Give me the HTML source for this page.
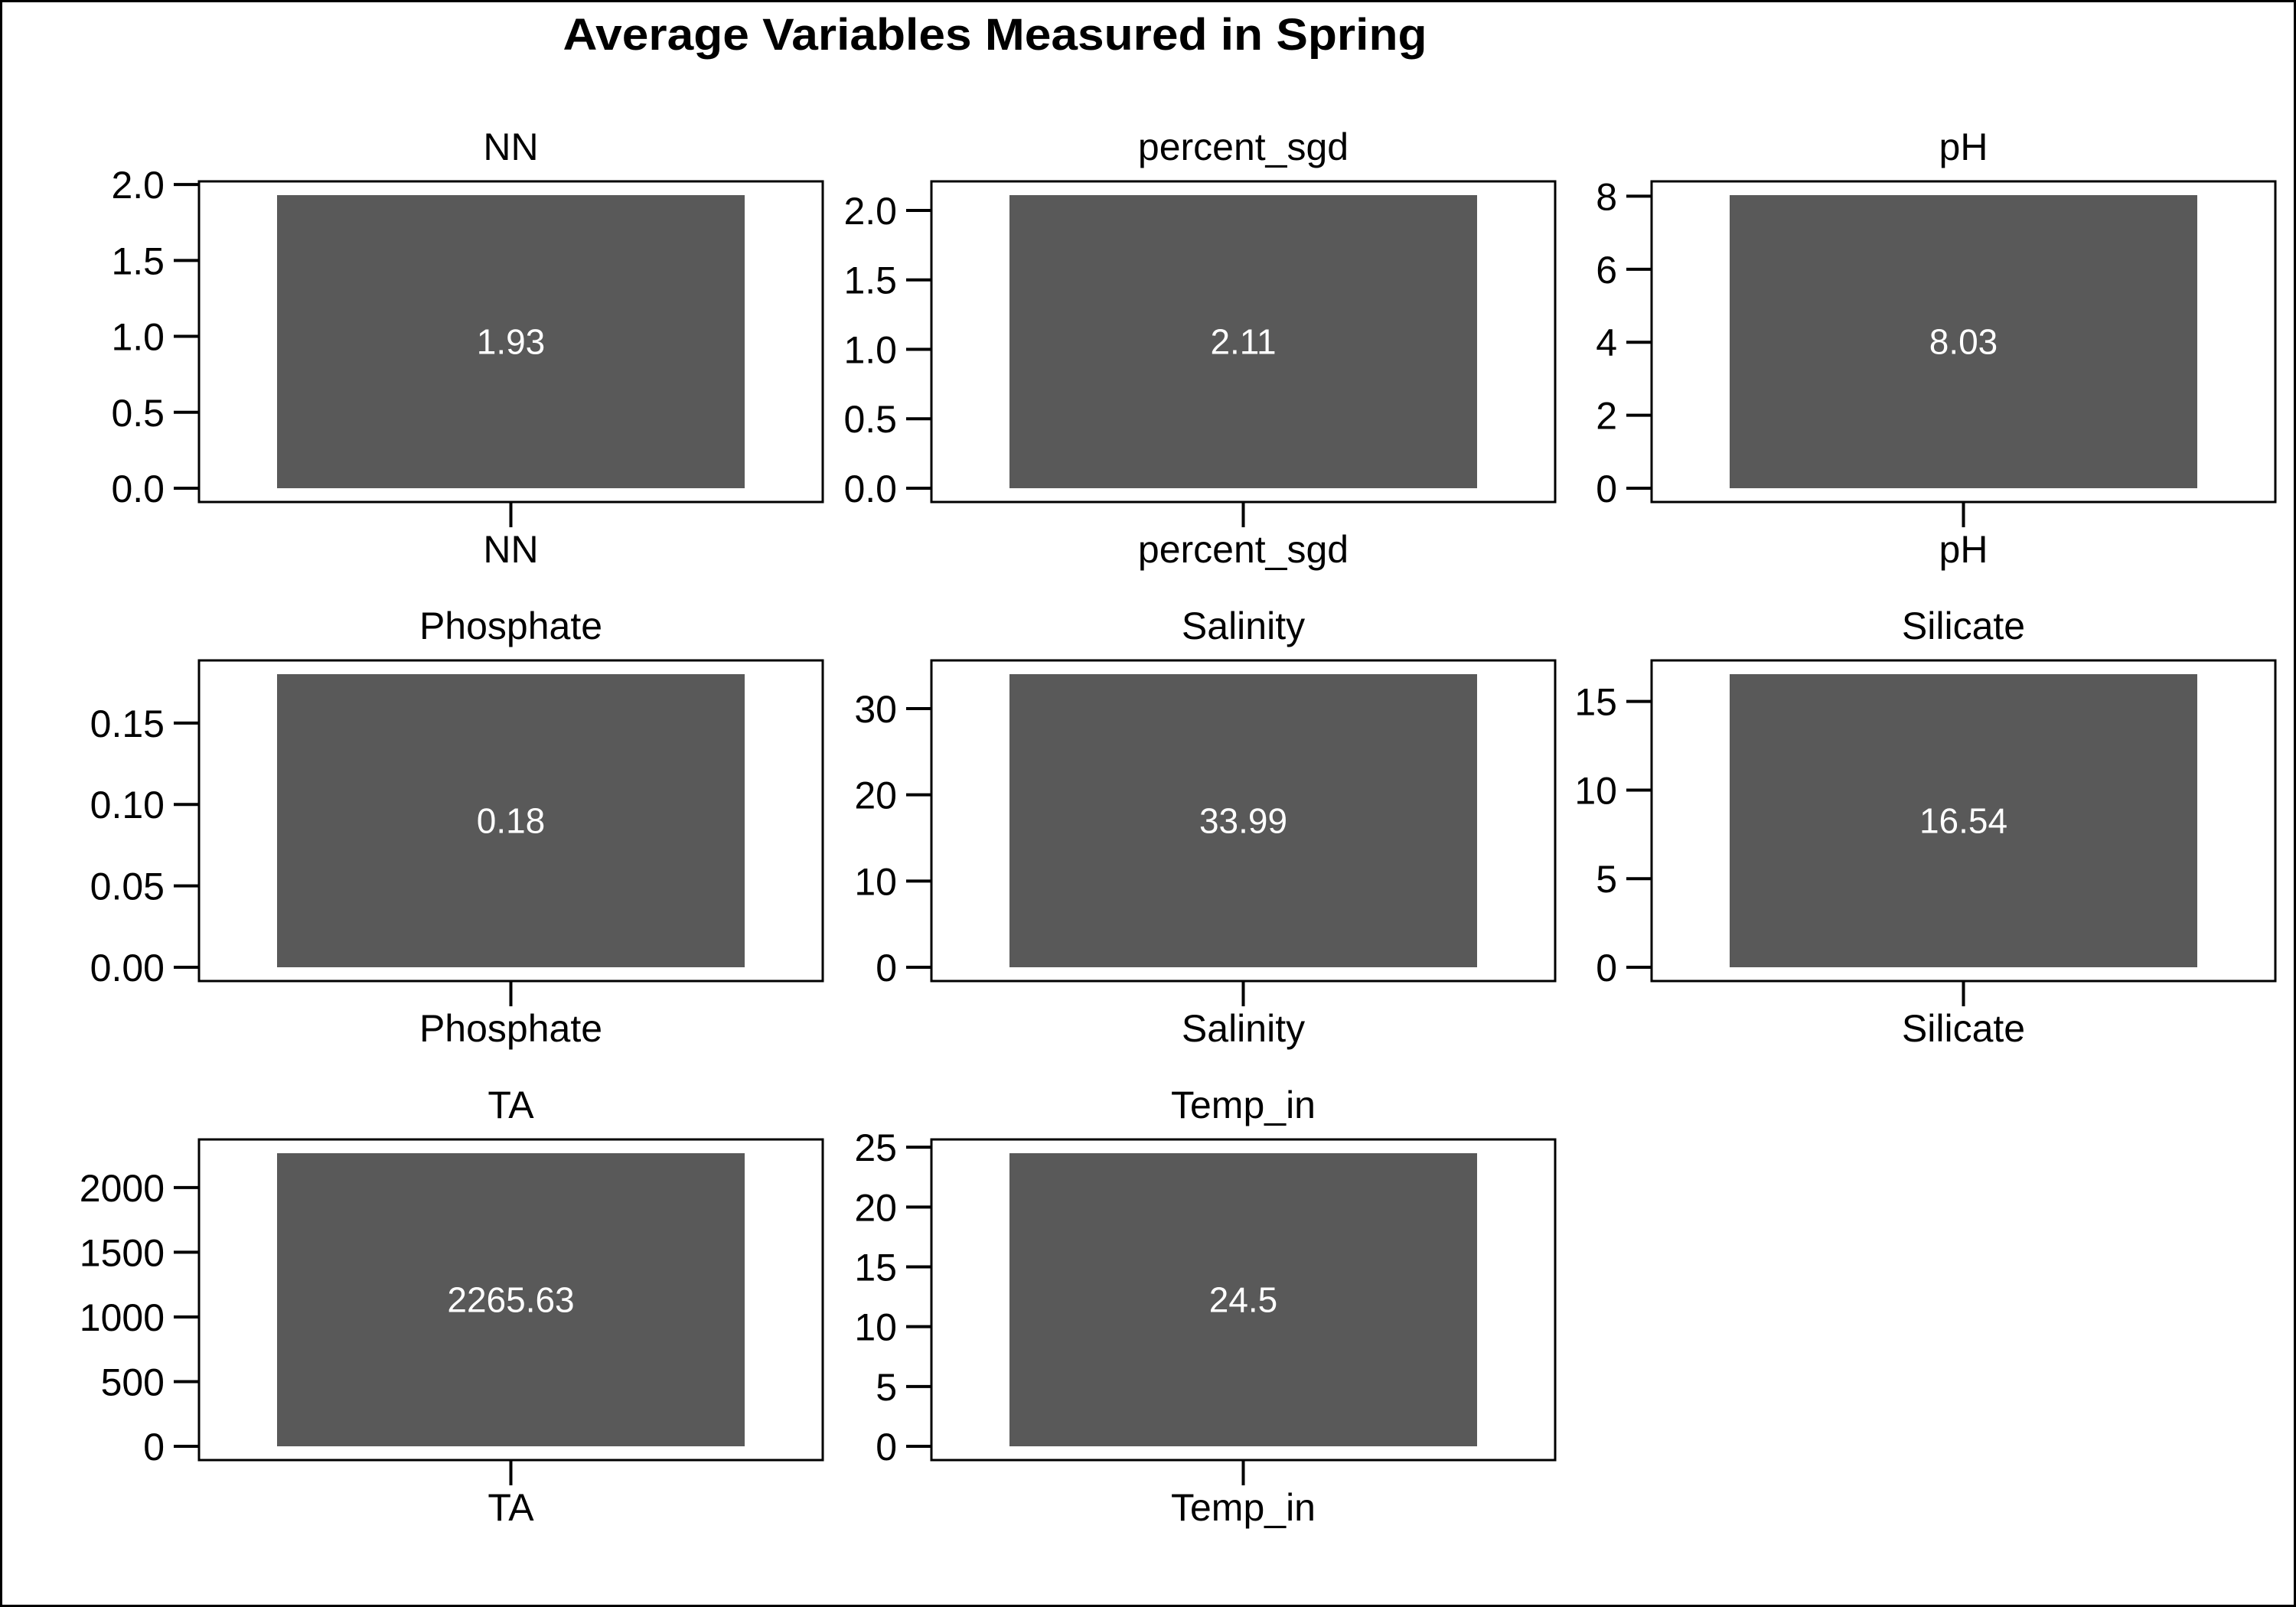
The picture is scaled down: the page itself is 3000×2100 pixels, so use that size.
<!DOCTYPE html>
<html><head><meta charset="utf-8">
<style>
html,body{margin:0;padding:0;background:#fff;}
svg{display:block;}
text{font-family:"Liberation Sans",Arial,sans-serif;}
</style></head>
<body>
<svg id="chart" width="3000" height="2100" viewBox="0 0 3000 2100" xmlns="http://www.w3.org/2000/svg">
<rect x="1.5" y="1.5" width="2997" height="2097" fill="#fff" stroke="#000" stroke-width="3"/>
<text x="1300" y="65" text-anchor="middle" font-size="58" font-weight="bold" textLength="1129" lengthAdjust="spacingAndGlyphs">Average Variables Measured in Spring</text>
<g id="panels"></g>
</svg>
<script>
const variables = ["NN","percent_sgd","pH","Phosphate","Salinity","Silicate","TA","Temp_in"];
const values = [1.93, 2.11, 8.03, 0.18, 33.99, 16.54, 2265.63, 24.5];
const valueLabels = ["1.93","2.11","8.03","0.18","33.99","16.54","2265.63","24.5"];
const tickValues = [
  [0,0.5,1.0,1.5,2.0],
  [0,0.5,1.0,1.5,2.0],
  [0,2,4,6,8],
  [0,0.05,0.10,0.15],
  [0,10,20,30],
  [0,5,10,15],
  [0,500,1000,1500,2000],
  [0,5,10,15,20,25]
];
const tickLabels = [
  ["0.0","0.5","1.0","1.5","2.0"],
  ["0.0","0.5","1.0","1.5","2.0"],
  ["0","2","4","6","8"],
  ["0.00","0.05","0.10","0.15"],
  ["0","10","20","30"],
  ["0","5","10","15"],
  ["0","500","1000","1500","2000"],
  ["0","5","10","15","20","25"]
];

const NS = "http://www.w3.org/2000/svg";
const colX = [260, 1217, 2158];
const rowY = [237, 863, 1489];
const boxW = 815, boxH = 419, pad = 18, barInset = 102;
const g = document.getElementById("panels");
function mk(tag, attrs, parent){
  const e = document.createElementNS(NS, tag);
  for (const k in attrs) e.setAttribute(k, attrs[k]);
  parent.appendChild(e);
  return e;
}
variables.forEach((name, i) => {
  const bx = colX[i % 3], by = rowY[Math.floor(i / 3)];
  const val = values[i];
  const panel = mk("g", {}, g);
  
  
  const y0 = by + boxH - pad, y1 = by + pad;
  const yScale = v => y0 - (v / val) * (y0 - y1);
  const cx = bx + boxW / 2;

  const t = mk("text", {x: cx, y: by - 28, "text-anchor": "middle", "font-size": 50}, panel);
  t.textContent = name;
  
  

  const bar = mk("rect", {x: bx + barInset, y: yScale(val), width: boxW - 2 * barInset, height: y0 - yScale(val), fill: "#595959"}, panel);
  
  

  const vl = mk("text", {x: cx, y: (yScale(val) + y0) / 2 + 16, "text-anchor": "middle", "font-size": 46, fill: "#fff"}, panel);
  vl.textContent = valueLabels[i];
  
  

  const box = mk("rect", {x: bx, y: by, width: boxW, height: boxH, fill: "none", stroke: "#000", "stroke-width": 3}, panel);
  
  

  tickValues[i].forEach((tv, j) => {
    const ty = yScale(tv);
    const tk = mk("line", {x1: bx - 33, x2: bx, y1: ty, y2: ty, stroke: "#000", "stroke-width": 4}, panel);
    
    
    const tl = mk("text", {x: bx - 45, y: ty + 18, "text-anchor": "end", "font-size": 50}, panel);
    tl.textContent = tickLabels[i][j];
    
    
  });

  const xt = mk("line", {x1: cx, x2: cx, y1: by + boxH, y2: by + boxH + 33, stroke: "#000", "stroke-width": 4}, panel);
  
  
  const xl = mk("text", {x: cx, y: by + boxH + 79, "text-anchor": "middle", "font-size": 50}, panel);
  xl.textContent = name;
  
  
});
</script>
</body></html>
